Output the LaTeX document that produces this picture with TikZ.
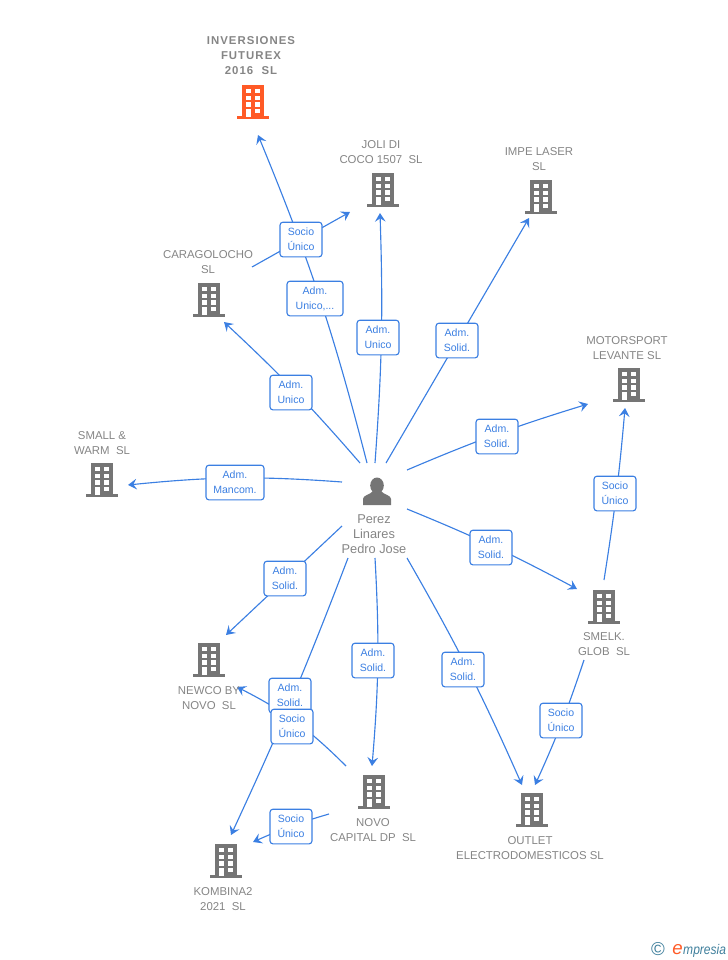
\documentclass[tikz,border=0pt]{standalone}
\usepackage{fontspec}
\setmainfont{Liberation Sans}
\usetikzlibrary{arrows.meta,backgrounds}
\definecolor{linkblue}{HTML}{3B7FE2}
\definecolor{namegrey}{HTML}{858585}
\definecolor{icongrey}{HTML}{757575}
\definecolor{iconorange}{HTML}{FF5A26}
\definecolor{logoteal}{HTML}{3F7F9C}
\tikzset{
	tolink/.style={linkblue, line width=0.85pt, -{Stealth[length=6.5pt,width=8pt,inset=2.5pt]}},
	role/.style={draw=linkblue, line width=0.85pt, rounded corners=2.2pt, fill=white, text=linkblue, font=\fontsize{7.9}{11.25}\selectfont, align=center, minimum width=31.5pt, minimum height=26pt, inner sep=0pt, yshift=-0.4pt},
	compname/.style={text=namegrey, font=\fontsize{8.55}{11.25}\selectfont, align=center, inner sep=0pt},
	building/.pic={
		\fill (-11,-34) rectangle (11,-2);
		\fill (-16,-3) rectangle (16,0);
		\foreach \y in {-30,-23.5,-16.7}{
			\fill[white] (-7.3,\y) rectangle (-2.3,\y+4.4);
			\fill[white] (2.3,\y) rectangle (7.3,\y+4.4);
		}
		\fill[white] (-7.3,-10.3) rectangle (-2.3,-2.5);
		\fill[white] (2.3,-10.3) rectangle (7.3,-5.6);
	}
}
\begin{document}
\begin{tikzpicture}[x=0.75pt,y=-0.75pt]
\useasboundingbox (0,0) rectangle (728,960);

% free ends of the links
\foreach \n/\x/\y in {pInv/367/463, pJoli/375/463, pImpe/386/463, pMot/407/470, pCar/360/463, pSmall/342/482, pSme/407/509, pOut/407/558, pNov/375/558, pKom/348/558, pNew/342/526, carS/252/267, smeU/604/580, smeD/584/660, novL/346/766, novB/329/814, invE/258/135, joliE/380/213, joliF/350/212, impeE/529/218, motE/588/404, motF/625/408, carE/224/322, smallE/128/485, smeE/577/589, outE/522/785, outF/535/785, novE/372/766, komE/231/835, komF/253/842, newE/226/635, newF/237/687}
	\coordinate (\n) at (\x,\y);

% role boxes
\node[role] (rInv) at (315,298) [minimum width=42pt] {Adm.\\Unico,...};
\node[role] (rCarJoli) at (301,239) {Socio\\Único};
\node[role] (rJoli) at (378,337) {Adm.\\Unico};
\node[role] (rImpe) at (457,340) {Adm.\\Solid.};
\node[role] (rMot) at (497,436) {Adm.\\Solid.};
\node[role] (rCar) at (291,392) {Adm.\\Unico};
\node[role] (rSmall) at (235,482) [minimum width=43.5pt] {Adm.\\Mancom.};
\node[role] (rSme) at (491,547) {Adm.\\Solid.};
\node[role] (rSmeMot) at (615,493) {Socio\\Único};
\node[role] (rSmeOut) at (561,720) {Socio\\Único};
\node[role] (rOut) at (463,669) {Adm.\\Solid.};
\node[role] (rNov) at (373,660) {Adm.\\Solid.};
\node[role] (rNew) at (285,578) {Adm.\\Solid.};
\node[role] (rKom) at (290,695) {Adm.\\Solid.};
\node[role] (rNovNew) at (292,726) {Socio\\Único};
\node[role] (rNovKom) at (291,826) {Socio\\Único};

% links pass under their boxes
\begin{scope}[on background layer]
\foreach \a/\b/\p in {pInv/invE/-4, carS/joliF/0, pJoli/joliE/-3, pImpe/impeE/0, pMot/motE/3, pCar/carE/-3, pSmall/smallE/-5, pSme/smeE/3, smeU/motF/-2, smeD/outF/3, pOut/outE/3, pNov/novE/4, pKom/komE/2, pNew/newE/0, novL/newF/-9, novB/komF/-4}
	\draw[tolink] (\a) to[bend left=\p] (\b);
\end{scope}

% companies
\pic[iconorange] at (253,119) {building};
\pic[icongrey] at (383,207) {building};
\pic[icongrey] at (541,214) {building};
\pic[icongrey] at (629,402) {building};
\pic[icongrey] at (209,317) {building};
\pic[icongrey] at (102,497) {building};
\pic[icongrey] at (604,624) {building};
\pic[icongrey] at (209,677) {building};
\pic[icongrey] at (374,809) {building};
\pic[icongrey] at (226,878) {building};
\pic[icongrey] at (532,827) {building};

\node[compname] (nInv) at (251,56) {\addfontfeatures{LetterSpace=9}\bfseries INVERSIONES\\\addfontfeatures{LetterSpace=9}\bfseries FUTUREX\\\addfontfeatures{LetterSpace=9}\bfseries 2016\ \ SL};
\node[compname] (nJoli) at (381,152) {JOLI DI\\COCO 1507\ \ SL};
\node[compname] (nImpe) at (539,159) {IMPE LASER\\SL};
\node[compname] (nMot) at (627,348) {MOTORSPORT\\LEVANTE SL};
\node[compname] (nCar) at (208,262) {CARAGOLOCHO\\SL};
\node[compname] (nSmall) at (102,443) {SMALL \&\\WARM\ \ SL};
\node[compname] (nSme) at (604,644) {SMELK.\\GLOB\ \ SL};
\node[compname] (nNew) at (209,698) {NEWCO BY\\NOVO\ \ SL};
\node[compname] (nNov) at (373,830) {NOVO\\CAPITAL DP\ \ SL};
\node[compname] (nKom) at (223,899) {KOMBINA2\\2021\ \ SL};
\node[compname] (nOut) at (530,848) {OUTLET\\ELECTRODOMESTICOS SL};

% person
\fill[icongrey] (377,485.5) ellipse (6.8 and 8);
\fill[icongrey] (363,505) -- (363,499) .. controls (363,495) and (370,495) .. (373,491) -- (381,491) .. controls (384,495) and (391,495) .. (391,499) -- (391,505) -- cycle;
\node[compname, font=\fontsize{9.6}{11.25}\selectfont] (nPerez) at (374,534) {Perez\\Linares\\Pedro Jose};

% logo
\node[text=logoteal, font=\fontsize{14}{14}\selectfont, inner sep=0pt] (logoC) at (658,949) {©};
\node[text=iconorange, font=\fontsize{14}{14}\itshape\selectfont, inner sep=0pt, anchor=base west] (logoE) at (672,954) {e};
\node[text=logoteal, font=\fontsize{10.5}{10.5}\itshape\selectfont, inner sep=0pt, anchor=base west, xscale=0.86, transform shape] (logoT) at (683,954) {mpresia};
\end{tikzpicture}
\end{document}
